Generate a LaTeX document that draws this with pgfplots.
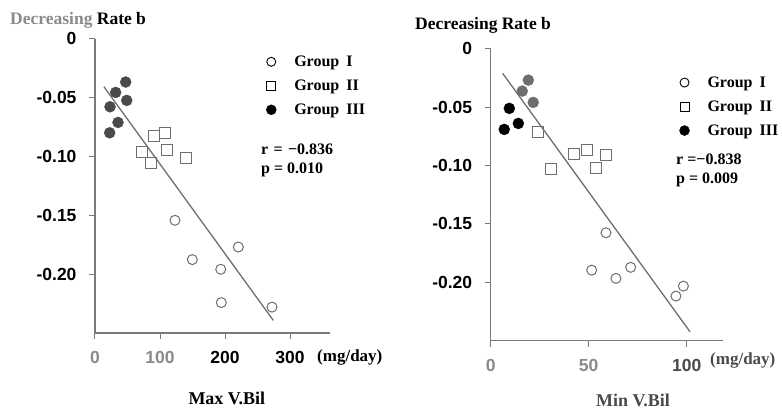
\documentclass[border=0pt]{standalone}
\usepackage{fontspec}
\setmainfont{Liberation Serif}
\setsansfont{Liberation Sans}
\usepackage{pgfplots}
\pgfplotsset{compat=1.18}
\definecolor{axgray}{HTML}{7A7A7A}
\definecolor{ptgray}{HTML}{6E6E6E}
\definecolor{dkgray}{HTML}{4A4A4A}
\definecolor{lblgray}{HTML}{8A8A8A}
\begin{document}
\begin{tikzpicture}[x=1pt,y=1pt]
\useasboundingbox (0,0) rectangle (782,411);
\pgfplotsset{
  common/.style={
    scale only axis, clip=false,
    axis lines*=left,
    axis line style={axgray, line width=1.2pt},
    tick style={axgray, line width=1pt},
    tick align=outside, major tick length=6pt,
    ymin=-0.25, ymax=0,
    ytick={0,-0.05,-0.1,-0.15,-0.2},
    yticklabels={0,-0.05,-0.10,-0.15,-0.20},
    ticklabel style={font=\sffamily\bfseries\fontsize{17.5}{17.5}\selectfont},
    yticklabel style={xshift=-9pt},
    xticklabel style={yshift=-9pt},
    /pgf/number format/assume math mode=true,
    legend cell align=left,
    legend style={draw=none, fill=none, inner sep=0pt,
      font=\bfseries\fontsize{16}{16}\selectfont,
      nodes={inner sep=0pt, text height=11pt, text depth=2pt},
      row sep=11pt,
      /tikz/every odd column/.append style={column sep=18pt}},
  },
  g1/.style={only marks, mark=o, mark size=5pt, ptgray, mark options={line width=1pt}},
  g2/.style={only marks, mark=square, mark size=5.5pt, ptgray, mark options={line width=1pt}},
  fitline/.style={no marks, color=ptgray, line width=1.3pt},
}
% ---------------- left panel ----------------
\begin{axis}[common,
  at={(95pt,78pt)}, anchor=south west,
  width=235pt, height=294.4pt,
  xmin=0, xmax=361.5,
  xtick={0,100,200,300},
  xticklabels={\textcolor{lblgray}{0},\textcolor{lblgray}{100},200,300},
  legend style={at={(rel axis cs:0.728,0.944)}, anchor=north west},
]
\addlegendimage{only marks, mark=o, mark size=4.5pt, black, mark options={line width=0.9pt}}
\addlegendentry{Group\hspace{7pt}I}
\addlegendimage{only marks, mark=square, mark size=4.5pt, black, mark options={line width=0.9pt}}
\addlegendentry{Group\hspace{7pt}II}
\addlegendimage{only marks, mark=*, mark size=5pt, black}
\addlegendentry{Group\hspace{7pt}III}
\addplot[fitline, forget plot] coordinates {(13.8,-0.0409) (274.3,-0.2393)};
\addplot[g1, forget plot] coordinates {
(123,-0.1543) (149.7,-0.1877) (220.5,-0.177) (193.4,-0.1959) (194.3,-0.2242) (272.3,-0.228)};
\addplot[g2, forget plot] coordinates {
(91.2,-0.0831) (107.7,-0.0805) (71.8,-0.0964) (111.2,-0.0945) (85.7,-0.106) (140.5,-0.1013)};
\addplot[only marks, mark=*, mark size=5.5pt, dkgray, forget plot] coordinates {
(47.2,-0.0369) (31.8,-0.0457) (48.8,-0.0525) (23.1,-0.0579) (35.4,-0.0712) (22.6,-0.0800)};
\end{axis}
% ---------------- right panel ----------------
\begin{axis}[common,
  at={(490.7pt,70.3pt)}, anchor=south west,
  width=232.3pt, height=292pt,
  xmin=0, xmax=118.5,
  xtick={0,50,100},
  xticklabels={\textcolor{lblgray}{0},\textcolor{lblgray}{50},\textcolor{dkgray}{100}},
  legend style={at={(rel axis cs:0.812,0.907)}, anchor=north west},
]
\addlegendimage{only marks, mark=o, mark size=4.5pt, black, mark options={line width=0.9pt}}
\addlegendentry{Group\hspace{7pt}I}
\addlegendimage{only marks, mark=square, mark size=4.5pt, black, mark options={line width=0.9pt}}
\addlegendentry{Group\hspace{7pt}II}
\addlegendimage{only marks, mark=*, mark size=5pt, black}
\addlegendentry{Group\hspace{7pt}III}
\addplot[fitline, forget plot] coordinates {(6.1,-0.0211) (101.7,-0.2424)};
\addplot[g1, forget plot] coordinates {
(58.8,-0.1576) (51.5,-0.1896) (63.9,-0.1967) (71.4,-0.1872) (94.5,-0.2118) (98.3,-0.2033)};
\addplot[g2, forget plot] coordinates {
(24.3,-0.0717) (42.5,-0.0902) (49,-0.0868) (58.7,-0.0911) (30.6,-0.1033) (53.7,-0.102)};
\addplot[only marks, mark=*, mark size=5.5pt, ptgray, forget plot] coordinates {
(19.2,-0.0269) (16.1,-0.0363) (21.7,-0.046)};
\addplot[only marks, mark=*, mark size=5.5pt, black, forget plot] coordinates {
(9.5,-0.0511) (14.1,-0.064) (6.9,-0.0691)};
\end{axis}
% ---------------- texts ----------------
\node[anchor=base west, inner sep=0pt, font=\bfseries\fontsize{17.5}{17.5}\selectfont] at (10,386)
  {\textcolor{lblgray}{Decreasing} Rate b};
\node[anchor=base west, inner sep=0pt, font=\bfseries\fontsize{17.5}{17.5}\selectfont] at (415,381.7)
  {Decreasing Rate b};
\node[anchor=base west, inner sep=0pt, font=\bfseries\fontsize{16}{16}\selectfont] at (261,256) {r\,\,=\,\,−0.836};
\node[anchor=base west, inner sep=0pt, font=\bfseries\fontsize{16}{16}\selectfont] at (261,237.7) {p = 0.010};
\node[anchor=base west, inner sep=0pt, font=\bfseries\fontsize{16}{16}\selectfont] at (676,246) {r =−0.838};
\node[anchor=base west, inner sep=0pt, font=\bfseries\fontsize{16}{16}\selectfont] at (676,227.7) {p = 0.009};
\node[anchor=base west, inner sep=0pt, font=\bfseries\fontsize{17}{17}\selectfont] at (317,49.3) {(mg/day)};
\node[anchor=base west, inner sep=0pt, font=\bfseries\fontsize{17}{17}\selectfont, text=dkgray] at (710,46) {(mg/day)};
\node[anchor=base west, inner sep=0pt, font=\bfseries\fontsize{18}{18}\selectfont] at (188.3,6) {Max V.Bil};
\node[anchor=base, inner sep=0pt, font=\bfseries\fontsize{18}{18}\selectfont, text=dkgray] at (633,4) {Min V.Bil};
\end{tikzpicture}
\end{document}
